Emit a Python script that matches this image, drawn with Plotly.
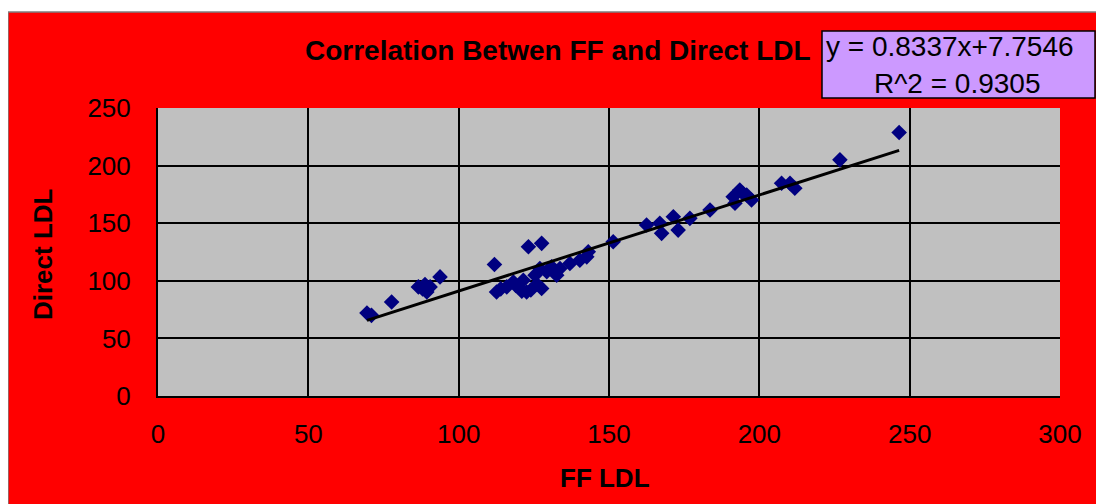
import plotly.graph_objects as go

# ---- data ----
ff_ldl = [69.5, 71.0, 77.7, 86.6, 88.8, 90.5, 89.4, 88.0, 93.8,
          111.9, 112.6, 114.0, 116.0, 118.2, 119.0, 121.0, 122.6, 121.5, 124.0, 126.0,
          123.2, 127.6, 127.6, 125.4, 127.0, 129.3, 130.9, 132.6, 133.7, 137.0,
          140.3, 142.6, 143.1, 151.4, 162.5, 166.9, 167.5, 171.4, 173.0, 176.9,
          183.6, 191.3, 193.5, 195.8, 197.4, 191.9, 194.5, 207.4, 210.2, 211.8,
          226.8, 246.5]
direct_ldl = [72.0, 70.0, 81.6, 94.7, 96.8, 94.7, 90.3, 93.0, 103.4,
              114.2, 90.3, 93.0, 94.7, 99.0, 96.0, 91.0, 90.3, 100.5, 92.0, 97.0,
              129.5, 132.5, 93.3, 104.9, 110.7, 107.8, 112.1, 104.9, 110.7, 115.0,
              117.9, 120.8, 125.2, 133.9, 148.4, 149.9, 141.2, 155.6, 144.0, 154.2,
              161.4, 173.0, 178.8, 174.5, 170.2, 167.3, 176.0, 184.7, 184.7, 180.3,
              205.0, 228.7]

slope = 0.8337
intercept = 7.7546
r_squared = 0.9305

x_ticks = [0, 50, 100, 150, 200, 250, 300]
y_ticks = [0, 50, 100, 150, 200, 250]

title_text = "Correlation Betwen FF and Direct LDL"
x_title = "FF LDL"
y_title = "Direct LDL"

# ---- layout geometry (pixels) ----
W, H = 1104, 504
OFF = 8  # page offset of the figure (default body margin)
L, R, T, B = 150, 52, 100, 116
PW, PH = W - L - R, H - T - B


def fx(px):
    """page x pixel -> paper coordinate"""
    return (px - OFF - L) / PW


def fy(py):
    """page y pixel -> paper coordinate"""
    return (H - B - (py - OFF)) / PH


FONT = "Liberation Sans, Arial, sans-serif"
RED = "#FF0000"
GREY = "#C0C0C0"

trend_x = [min(ff_ldl), max(ff_ldl)]
trend_y = [slope * v + intercept for v in trend_x]

fig = go.Figure()
fig.add_trace(go.Scatter(
    x=ff_ldl, y=direct_ldl, mode="markers",
    marker=dict(symbol="diamond", size=12, color="#000080",
                line=dict(width=0)),
    showlegend=False, hoverinfo="x+y"))
fig.add_trace(go.Scatter(
    x=trend_x, y=trend_y, mode="lines",
    line=dict(color="black", width=3),
    showlegend=False, hoverinfo="skip"))

shapes = [
    # red chart area
    dict(type="rect", xref="paper", yref="paper",
         x0=fx(8), x1=fx(1120), y0=fy(12), y1=fy(520),
         fillcolor=RED, line=dict(color="#808080", width=1.5), layer="below"),
    # grey plot area
    dict(type="rect", xref="paper", yref="paper",
         x0=0, x1=1, y0=0, y1=1,
         fillcolor=GREY, line=dict(width=0), layer="below"),
    # equation box
    dict(type="rect", xref="paper", yref="paper",
         x0=fx(822), x1=fx(1095), y0=fy(98), y1=fy(31),
         fillcolor="#CC99FF", line=dict(color="black", width=1.5), layer="above"),
]

annotations = [
    dict(text=f"<b>{title_text}</b>", xref="paper", yref="paper",
         x=fx(558), y=fy(50), showarrow=False,
         font=dict(family=FONT, size=28, color="black"),
         xanchor="center", yanchor="middle"),
    dict(text=f"y = {slope}x+{intercept}", xref="paper", yref="paper",
         x=fx(950), y=fy(46), showarrow=False,
         font=dict(family=FONT, size=28, color="black"),
         xanchor="center", yanchor="middle"),
    dict(text=f"R^2 = {r_squared}", xref="paper", yref="paper",
         x=fx(957), y=fy(83), showarrow=False,
         font=dict(family=FONT, size=28, color="black"),
         xanchor="center", yanchor="middle"),
    dict(text=f"<b>{x_title}</b>", xref="paper", yref="paper",
         x=fx(605), y=fy(478), showarrow=False,
         font=dict(family=FONT, size=26, color="black"),
         xanchor="center", yanchor="middle"),
    dict(text=f"<b>{y_title}</b>", xref="paper", yref="paper",
         x=fx(43), y=fy(254), showarrow=False, textangle=-90,
         font=dict(family=FONT, size=26, color="black"),
         xanchor="center", yanchor="middle"),
]

fig.update_layout(
    width=W, height=H,
    margin=dict(l=L, r=R, t=T, b=B, pad=0),
    paper_bgcolor="white", plot_bgcolor=GREY,
    shapes=shapes, annotations=annotations,
    font=dict(family=FONT, color="black"),
    showlegend=False,
)
fig.update_xaxes(
    range=[0, 300], tickvals=x_ticks, ticktext=[str(v) for v in x_ticks],
    showgrid=True, gridcolor="black", gridwidth=1.5,
    showline=True, linecolor="black", linewidth=2, mirror=False,
    zeroline=False, ticks="outside", ticklen=14, tickcolor=RED,
    tickfont=dict(family=FONT, size=26, color="black"),
)
fig.update_yaxes(
    range=[0, 250], tickvals=y_ticks, ticktext=[str(v) for v in y_ticks],
    showgrid=True, gridcolor="black", gridwidth=1.5,
    showline=True, linecolor="black", linewidth=2, mirror=False,
    zeroline=False, ticks="outside", ticklen=20, tickcolor=RED,
    tickfont=dict(family=FONT, size=26, color="black"),
)

fig.write_html("out.html")
